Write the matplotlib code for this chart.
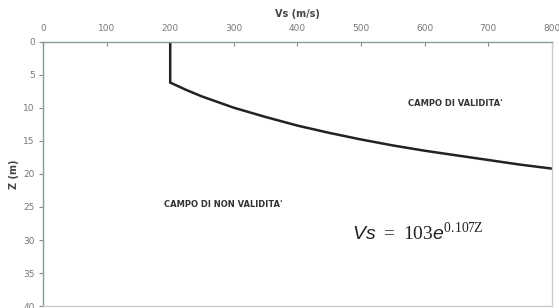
import matplotlib.pyplot as plt

# Vs-Z curve (vertical part then exponential branch)
vs = [200, 200, 225, 250, 300, 350, 400, 450, 500, 550, 600, 650, 700, 750, 800]
z = [0, 6.2, 7.3, 8.3, 10.0, 11.4, 12.7, 13.8, 14.8, 15.7, 16.5, 17.2, 17.9, 18.6, 19.2]

x_ticks = [0, 100, 200, 300, 400, 500, 600, 700, 800]
y_ticks = [0, 5, 10, 15, 20, 25, 30, 35, 40]

plt.rcParams['mathtext.fontset'] = 'custom'
plt.rcParams['mathtext.rm'] = 'Liberation Serif'
plt.rcParams['mathtext.it'] = 'Liberation Sans:italic'

fig = plt.figure(figsize=(5.59, 3.08), dpi=100)
ax = fig.add_axes([0.077, 0.006, 0.910, 0.859])

ax.plot(vs, z, color='#222222', linewidth=1.8, solid_joinstyle='miter')

ax.set_xlim(0, 800)
ax.set_ylim(40, 0)
ax.set_xticks(x_ticks)
ax.set_yticks(y_ticks)
ax.xaxis.tick_top()
ax.xaxis.set_label_position('top')
ax.tick_params(axis='x', direction='in', length=3, pad=6, labelsize=6.5,
               colors='#888888', labelcolor='#777777', width=0.8)
ax.tick_params(axis='y', direction='out', length=3, pad=3, labelsize=6.5,
               colors='#888888', labelcolor='#777777', width=0.8)
ax.set_xlabel('Vs (m/s)', fontsize=7, fontweight='bold', color='#444444', labelpad=5)
ax.set_ylabel('Z (m)', fontsize=7, fontweight='bold', color='#444444', labelpad=3)

for side in ['top', 'left']:
    ax.spines[side].set_color('#8a9a9a')
    ax.spines[side].set_linewidth(1.0)
for side in ['right', 'bottom']:
    ax.spines[side].set_color('#cccccc')
    ax.spines[side].set_linewidth(1.0)

ax.text(648, 9.3, "CAMPO DI VALIDITA'", fontsize=6, fontweight='bold',
        color='#333333', ha='center', va='center')
ax.text(283, 24.6, "CAMPO DI NON VALIDITA'", fontsize=6, fontweight='bold',
        color='#333333', ha='center', va='center')
ax.text(590, 28.8, r'$Vs\ =\ \mathrm{103}e^{\mathrm{0.107Z}}$', fontsize=14,
        color='#222222', ha='center', va='center')

fig.savefig('out.png', dpi=100)
